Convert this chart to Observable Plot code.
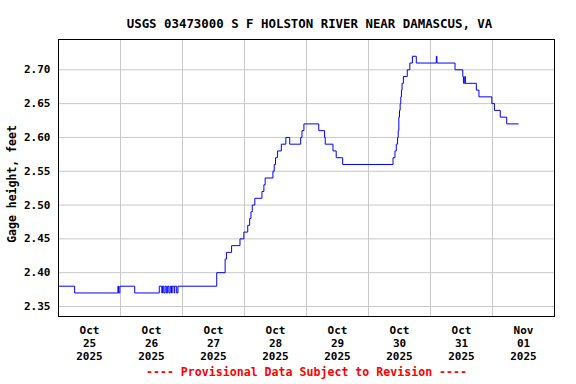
<!DOCTYPE html>
<html>
<head>
<meta charset="utf-8">
<script src="https://cdn.jsdelivr.net/npm/d3@7"></script>
<script src="https://cdn.jsdelivr.net/npm/@observablehq/plot@0.6"></script>
<style>
  html, body { margin: 0; padding: 0; background: #fff; }
  #chart svg { display: block; }
</style>
</head>
<body>
<div id="chart"></div>
<script>
// Step-change times (gauge clock) and gage heights (feet)
const times = [
  "10-25 00:00","10-25 06:15","10-25 23:00","10-25 23:15","10-25 23:45",
  "10-26 05:30","10-26 15:00","10-26 16:00","10-26 16:15","10-26 16:45",
  "10-26 17:15","10-26 17:45","10-26 18:15","10-26 18:45","10-26 19:15",
  "10-26 19:45","10-26 20:00","10-26 20:45","10-26 21:00","10-26 21:45",
  "10-26 22:15","10-27 13:15","10-27 16:30","10-27 17:00","10-27 19:00",
  "10-27 22:15","10-27 23:45","10-28 01:15","10-28 02:00","10-28 02:30",
  "10-28 03:00","10-28 04:00","10-28 06:45","10-28 07:30","10-28 08:00",
  "10-28 11:00","10-28 11:30","10-28 12:00","10-28 12:45","10-28 14:15",
  "10-28 16:00","10-28 17:30","10-28 21:45","10-28 22:15","10-28 23:00",
  "10-29 04:45","10-29 07:00","10-29 07:15","10-29 10:15","10-29 11:30",
  "10-29 14:00","10-30 09:30","10-30 10:15","10-30 10:45","10-30 11:15",
  "10-30 11:30","10-30 11:45","10-30 12:00","10-30 12:15","10-30 12:30",
  "10-30 12:45","10-30 13:00","10-30 13:30","10-30 15:00","10-30 16:00",
  "10-30 17:00","10-30 18:30","10-31 02:15","10-31 02:30","10-31 09:30",
  "10-31 12:30","10-31 12:45","10-31 13:15","10-31 13:30","10-31 17:45",
  "10-31 18:45","10-31 23:45","11-01 00:45","11-01 03:00","11-01 05:30",
  "11-01 10:00"
];
const heights = [
  2.38,2.37,2.38,2.37,2.38,
  2.37,2.38,2.37,2.38,2.37,
  2.38,2.37,2.38,2.37,2.38,
  2.37,2.38,2.37,2.38,2.37,
  2.38,2.40,2.42,2.43,2.44,
  2.45,2.46,2.47,2.48,2.49,
  2.50,2.51,2.52,2.53,2.54,
  2.55,2.56,2.57,2.58,2.59,
  2.60,2.59,2.60,2.61,2.62,
  2.61,2.60,2.59,2.58,2.57,
  2.56,2.57,2.58,2.59,2.60,
  2.61,2.63,2.64,2.65,2.66,
  2.67,2.68,2.69,2.70,2.71,
  2.72,2.71,2.72,2.71,2.70,
  2.69,2.68,2.69,2.68,2.67,
  2.66,2.65,2.64,2.63,2.62,
  2.62
];

const yTicks = [2.35, 2.40, 2.45, 2.50, 2.55, 2.60, 2.65, 2.70];
const dayLines = ["10-26","10-27","10-28","10-29","10-30","10-31","11-01"];
const xTickDays = ["10-25","10-26","10-27","10-28","10-29","10-30","10-31","11-01"];
const xTickLabels = ["Oct\n25\n2025","Oct\n26\n2025","Oct\n27\n2025","Oct\n28\n2025",
                     "Oct\n29\n2025","Oct\n30\n2025","Oct\n31\n2025","Nov\n01\n2025"];
const titleText = "USGS 03473000 S F HOLSTON RIVER NEAR DAMASCUS, VA";
const yLabel = "Gage height, feet";
const footerText = "---- Provisional Data Subject to Revision ----";

const parse = s => new Date(`2025-${s.replace(" ", "T")}:00Z`);
const data = times.map((t, i) => ({date: parse(t), value: heights[i]}));
const gridDates = dayLines.map(d => parse(d + " 00:00"));
const tickDates = xTickDays.map(d => parse(d + " 12:00"));
const labelFor = new Map(tickDates.map((d, i) => [+d, xTickLabels[i]]));

const font = "'DejaVu Sans Mono', monospace";

const chart = Plot.plot({
  width: 576,
  height: 384,
  marginLeft: 58,
  marginRight: 22,
  marginTop: 39,
  marginBottom: 68,
  style: {fontFamily: font, fontWeight: "bold", fontSize: "11px", background: "#fff", color: "#000"},
  x: {type: "utc", domain: [parse("10-25 00:00"), parse("11-02 00:00")]},
  y: {domain: [2.3352, 2.7448]},
  marks: [
    Plot.gridY(yTicks, {stroke: "#c8c8c8", strokeOpacity: 1, strokeWidth: 1}),
    Plot.gridX(gridDates, {stroke: "#c8c8c8", strokeOpacity: 1, strokeWidth: 1}),
    Plot.line(data, {x: "date", y: "value", curve: "step-after", stroke: "#0000ff", strokeWidth: 1}),
    Plot.frame({stroke: "#000", strokeWidth: 1}),
    Plot.axisY(yTicks, {tickSize: 0, tickPadding: 8, tickFormat: d => d.toFixed(2),
      fontSize: 11, label: null}),
    Plot.axisX(tickDates, {tickSize: 0, tickPadding: 9, tickFormat: d => labelFor.get(+d),
      fontSize: 11, lineHeight: 1.15, label: null}),
    Plot.text([yLabel], {frameAnchor: "left", dx: -46, dy: 6, rotate: -90, fontSize: 11.5,
      textAnchor: "middle", fontWeight: "bold", text: d => d}),
    Plot.text([titleText], {frameAnchor: "top", dx: 3, dy: -20, fontSize: 12.4, fontWeight: "bold",
      text: d => d, fill: "#000"}),
    Plot.text([footerText], {frameAnchor: "bottom", dy: 59, fontSize: 11.6, fontWeight: "bold",
      text: d => d, fill: "#ff0000"})
  ]
});
document.getElementById("chart").appendChild(chart);
</script>
</body>
</html>
